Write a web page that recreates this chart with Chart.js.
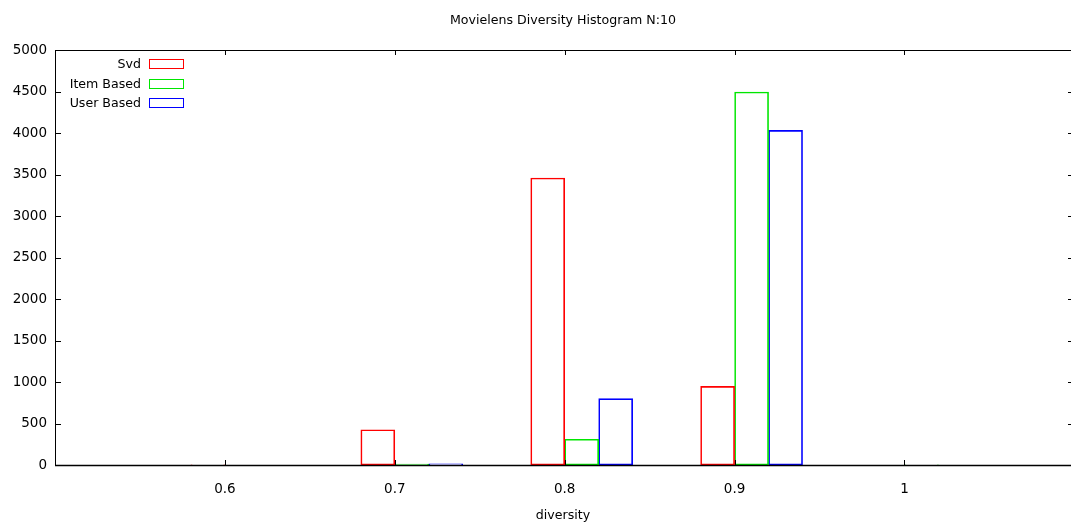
<!DOCTYPE html>
<html>
<head>
<meta charset="utf-8">
<script src="https://cdn.jsdelivr.net/npm/chart.js@4.4.1/dist/chart.umd.min.js"></script>
<style>
  html, body { margin: 0; padding: 0; background: #fff; }
  #wrap { width: 1071px; height: 525px; position: relative; }
</style>
</head>
<body>
<div id="wrap"><canvas id="c" width="1071" height="525"></canvas></div>
<script>
// Histogram bins (diversity) and counts per recommender
const bins = [0.6, 0.7, 0.8, 0.9, 1.0];
const svdCounts = [3, 425, 3458, 948, 0];
const itemCounts = [0, 12, 310, 4494, 3];
const userCounts = [0, 15, 799, 4032, 0];
const seriesNames = ['Svd', 'Item Based', 'User Based'];
const yTicks = [0, 500, 1000, 1500, 2000, 2500, 3000, 3500, 4000, 4500, 5000];
const xTicks = [0.6, 0.7, 0.8, 0.9, 1.0];

const FONT = '"DejaVu Sans", Verdana, sans-serif';
const TEXT_SIZE = 12.6;
const NUM_SIZE = 13.5;
const colors = ['#ff0000', '#00e600', '#0000ff'];
// each series' box sits beside the bin value, one box-width apart
const shifts = [-0.01, 0.01, 0.03];

function toPoints(counts, shift) {
  return bins.map((b, i) => ({ x: +(b + shift).toFixed(3), y: counts[i] }));
}

const datasets = [svdCounts, itemCounts, userCounts].map((counts, k) => ({
  label: seriesNames[k],
  data: toPoints(counts, shifts[k]),
  backgroundColor: 'rgba(0,0,0,0)',
  borderColor: colors[k],
  borderWidth: 1,
  borderSkipped: false,
  grouped: false,
  barPercentage: 1,
  categoryPercentage: 1
}));

// frame, inward tick marks, title and gnuplot-style key
const decor = {
  id: 'decor',
  afterDraw(chart) {
    const { ctx, chartArea: a, scales } = chart;
    const x = scales.x, y = scales.y;
    ctx.save();
    ctx.strokeStyle = '#000';
    ctx.lineWidth = 1;
    ctx.beginPath();
    ctx.moveTo(a.left + 0.5, a.top + 0.5);
    ctx.lineTo(a.right + 5, a.top + 0.5);
    ctx.moveTo(a.left + 0.5, a.top);
    ctx.lineTo(a.left + 0.5, a.bottom + 1);
    ctx.stroke();
    ctx.lineWidth = 1.5;
    ctx.beginPath();
    ctx.moveTo(a.left, a.bottom + 0.5);
    ctx.lineTo(a.right + 5, a.bottom + 0.5);
    ctx.stroke();
    ctx.lineWidth = 1;
    ctx.beginPath();
    yTicks.forEach(v => {
      const py = Math.round(y.getPixelForValue(v)) + 0.5;
      ctx.moveTo(a.left, py); ctx.lineTo(a.left + 6, py);
      ctx.moveTo(a.right - 3, py); ctx.lineTo(a.right, py);
    });
    xTicks.forEach(v => {
      const px = Math.round(x.getPixelForValue(v)) + 0.5;
      ctx.moveTo(px, a.bottom); ctx.lineTo(px, a.bottom - 5);
      ctx.moveTo(px, a.top); ctx.lineTo(px, a.top + 5);
    });
    ctx.stroke();

    // title
    ctx.fillStyle = '#000';
    ctx.font = TEXT_SIZE + 'px ' + FONT;
    ctx.textAlign = 'center';
    ctx.textBaseline = 'middle';
    ctx.fillText('Movielens Diversity Histogram N:10', (a.left + 1071) / 2, 21);

    // key
    ctx.textAlign = 'right';
    seriesNames.forEach((name, k) => {
      const cy = 64 + k * 19.5;
      ctx.fillStyle = '#000';
      ctx.fillText(name, 141, cy + 1);
      ctx.strokeStyle = colors[k];
      ctx.strokeRect(149.5, Math.round(cy) - 4.5, 34, 9);
    });
    ctx.restore();
  }
};

new Chart(document.getElementById('c'), {
  type: 'bar',
  data: { datasets },
  options: {
    responsive: false,
    animation: false,
    layout: { padding: { top: 50, right: 0, left: 0, bottom: 0 } },
    plugins: { legend: { display: false }, title: { display: false }, tooltip: { enabled: false } },
    scales: {
      x: {
        type: 'linear',
        offset: false,
        min: 0.5,
        max: 1.098,
        grid: { display: false, drawTicks: false, offset: false },
        border: { display: false },
        afterBuildTicks(s) { s.ticks = xTicks.map(v => ({ value: v })); },
        afterFit(s) { s.height = 60; },
        ticks: {
          color: '#000',
          font: { family: FONT, size: NUM_SIZE },
          padding: 16,
          maxRotation: 0,
          callback: v => String(+v.toFixed(1))
        },
        title: {
          display: true,
          text: 'diversity',
          color: '#000',
          font: { family: FONT, size: TEXT_SIZE },
          padding: { top: 0, bottom: 2 }
        }
      },
      y: {
        min: 0,
        max: 5000,
        grid: { display: false, drawTicks: false },
        border: { display: false },
        afterBuildTicks(s) { s.ticks = yTicks.map(v => ({ value: v })); },
        afterFit(s) { s.width = 55; },
        ticks: {
          color: '#000',
          font: { family: FONT, size: NUM_SIZE },
          padding: 8,
          callback: v => String(v)
        }
      }
    }
  },
  plugins: [decor]
});
</script>
</body>
</html>
